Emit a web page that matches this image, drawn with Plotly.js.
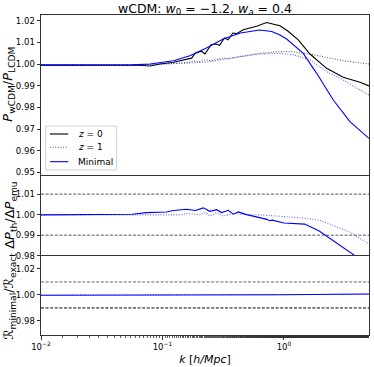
<!DOCTYPE html>
<html>
<head>
<meta charset="utf-8">
<script src="https://cdn.plot.ly/plotly-3.0.1.min.js"></script>
<style>html,body{margin:0;padding:0;background:#fff;}#chart{width:374px;height:367px;}</style>
</head>
<body>
<div id="chart"></div>
<script>
// ---- Panel 1: P_wCDM / P_LCDM ----
const kExactZ0 = [0.01,0.0316,0.0631,0.0794,0.0955,0.123,0.148,0.174,0.186,0.209,0.224,0.251,0.275,0.295,0.324,0.347,0.380,0.407,0.462,0.596,0.719,0.813,0.927,1.075,1.312,1.637,2.244,3.076,4.227,5.012];
const ratioExactZ0 = [0.9995,0.9995,0.9994,0.9991,1.0000,1.0008,1.0020,1.0027,1.0050,1.0059,1.0046,1.0089,1.0092,1.0086,1.0120,1.0112,1.0143,1.0140,1.0158,1.0174,1.0191,1.0183,1.0176,1.0152,1.0111,1.0046,0.9980,0.9939,0.9916,0.9899];

const kExactZ1 = [0.01,0.0631,0.110,0.168,0.178,0.200,0.229,0.251,0.316,0.347,0.407,0.634,0.927,1.122,1.637,3.076,5.012];
const ratioExactZ1 = [0.9997,0.9997,1.0001,1.0008,1.0015,1.0010,1.0020,1.0015,1.0028,1.0024,1.0032,1.0049,1.0057,1.0058,1.0046,1.0015,1.0000];

const kMinZ0 = [0.01,0.0316,0.0562,0.0794,0.123,0.168,0.230,0.316,0.437,0.631,0.794,0.927,1.052,1.442,1.858,2.547,3.491,5.012];
const ratioMinZ0 = [0.9995,0.9995,0.9996,1.0000,1.0015,1.0038,1.0074,1.0115,1.0143,1.0157,1.0150,1.0134,1.0115,1.0049,0.9957,0.9834,0.9734,0.9657];

const kMinZ1 = [0.01,0.0631,0.126,0.230,0.380,0.634,0.927,1.194,1.637,2.244,3.076,5.012];
const ratioMinZ1 = [0.9995,0.9996,1.0002,1.0009,1.0028,1.0046,1.0049,1.0042,1.0019,0.9965,0.9926,0.9856];

// ---- Panel 2: dP_th / dP_emu ----
const kDeltaZ0 = [0.01,0.0316,0.0562,0.0741,0.108,0.123,0.158,0.186,0.217,0.245,0.279,0.307,0.348,0.383,0.421,0.493,0.724,0.760,0.800,1.0,1.349,1.479,1.95,3.80,5.012];
const deltaZ0 = [0.9999,0.9999,1.0002,1.0010,1.0013,1.0020,1.0026,1.0020,1.0033,1.0016,1.0024,1.0010,1.0021,1.0002,1.0013,1.0000,0.9977,0.9970,0.9973,0.9959,0.9956,0.9954,0.9920,0.9800,0.9753];

const kDeltaZ1 = [0.01,0.138,0.158,0.204,0.229,0.245,0.279,0.316,0.383,0.493,0.631,1.0,1.349,1.995,2.541,3.467,5.012];
const deltaZ1 = [0.9999,0.9999,1.0005,1.0000,1.0010,0.9993,1.0010,0.9993,1.0005,1.0000,0.9999,0.9992,0.9985,0.9972,0.9948,0.9915,0.9857];

// ---- Panel 3: R_minimal / R_exact ----
const kR = [0.01,0.316,1.0,5.012];
const rZ0 = [0.9998,0.9999,1.0002,1.0007];
const rZ1 = [0.9998,0.9999,1.0001,1.0005];

// tolerance bands
const kEdges = [0.01,5.012];
const tolUpper = 1.01;
const tolLower = 0.99;

// tick labels
const xTickVals = [0.01,0.1,1];
const xTickText = ['10<sup>\u22122</sup>','10<sup>\u22121</sup>','10<sup>0</sup>'];
const y1Ticks = [0.95,0.96,0.97,0.98,0.99,1.00,1.01,1.02];
const y2Ticks = [0.98,0.99,1.00,1.01];
const y3Ticks = [0.98,1.00,1.02];

// legend labels
const legendLabels = ['<i>z</i> = 0','<i>z</i> = 1','Minimal'];

const BLUE = '#0000ff';
const BLUE_LIGHT = 'rgba(0,0,255,0.6)';
const GREY_DOT = 'rgba(0,0,0,0.65)';
const DOTS = '1px,1.6px';

const traces = [
  {x:kExactZ0, y:ratioExactZ0, xaxis:'x', yaxis:'y', mode:'lines', name:legendLabels[0],
   line:{color:'#000', width:1.1}},
  {x:kExactZ1, y:ratioExactZ1, xaxis:'x', yaxis:'y', mode:'lines', name:legendLabels[1],
   line:{color:GREY_DOT, width:1.1, dash:DOTS}},
  {x:kMinZ0, y:ratioMinZ0, xaxis:'x', yaxis:'y', mode:'lines', name:legendLabels[2],
   line:{color:BLUE, width:1.1}},
  {x:kMinZ1, y:ratioMinZ1, xaxis:'x', yaxis:'y', mode:'lines',
   line:{color:BLUE_LIGHT, width:1.1, dash:DOTS}},

  {x:kEdges, y:[tolUpper,tolUpper], xaxis:'x2', yaxis:'y2', mode:'lines',
   line:{color:'#555', width:1, dash:'3px,1.6px'}},
  {x:kEdges, y:[tolLower,tolLower], xaxis:'x2', yaxis:'y2', mode:'lines',
   line:{color:'#555', width:1, dash:'3px,1.6px'}},
  {x:kDeltaZ0, y:deltaZ0, xaxis:'x2', yaxis:'y2', mode:'lines',
   line:{color:BLUE, width:1.1}},
  {x:kDeltaZ1, y:deltaZ1, xaxis:'x2', yaxis:'y2', mode:'lines',
   line:{color:BLUE_LIGHT, width:1.1, dash:DOTS}},

  {x:kEdges, y:[tolUpper,tolUpper], xaxis:'x3', yaxis:'y3', mode:'lines',
   line:{color:'#666', width:1, dash:'3px,1.6px'}},
  {x:kEdges, y:[tolLower,tolLower], xaxis:'x3', yaxis:'y3', mode:'lines',
   line:{color:'#000', width:1, dash:'3px,1.6px'}},
  {x:kR, y:rZ0, xaxis:'x3', yaxis:'y3', mode:'lines',
   line:{color:BLUE, width:1.1}},
  {x:kR, y:rZ1, xaxis:'x3', yaxis:'y3', mode:'lines',
   line:{color:BLUE_LIGHT, width:1.1, dash:DOTS}}
];

const FONT = 'DejaVu Sans';
const AX = '#333';
function xax(anchor, bottom, line){
  return {
    type:'log', range:[-2, 0.7], anchor:anchor, matches: anchor==='y3'?undefined:'x3',
    showline:line, mirror:true, linecolor:AX, linewidth:1,
    showgrid:false, zeroline:false,
    ticks: bottom?'outside':'', ticklen:3.5, tickwidth:1, tickcolor:AX,
    showticklabels: bottom,
    tickvals: xTickVals, ticktext: xTickText,
    tickfont:{family:FONT, size:8.5, color:'#000'},
    minor: bottom ? {ticks:'outside', ticklen:2, tickwidth:0.8, tickcolor:AX, showgrid:false} : undefined
  };
}
function yax(domain, range, ticks, anchor){
  return {
    domain:domain, range:range, anchor:anchor,
    showline:true, mirror:true, linecolor:AX, linewidth:1,
    showgrid:false, zeroline:false,
    ticks:'outside', ticklen:3.5, tickwidth:1, tickcolor:AX,
    tickvals:ticks, tickformat:'.2f',
    tickfont:{family:FONT, size:8.5, color:'#000'}
  };
}

const xa3 = xax('y3', true, true);
xa3.title = {text:'<i>k</i> [<i>h/Mpc</i>]', font:{family:FONT, size:11, color:'#000'}, standoff:4};

// manual legend (positions in paper units of the plot area)
const legX0 = 0.0143, legX1 = 0.2308, legY0 = 0.5156, legY1 = 0.653;
const legRowY = [0.6281, 0.5866, 0.5416];
const legLineX = [0.0274, 0.0833];
const legTextX = 0.1067;
const legStyles = [
  {color:'#000', width:1.1},
  {color:GREY_DOT, width:1.1, dash:DOTS},
  {color:BLUE, width:1.1}
];

const shapes = [
  {type:'rect', xref:'paper', yref:'paper', x0:legX0, x1:legX1, y0:legY0, y1:legY1,
   line:{color:'#d0d0d0', width:1}, fillcolor:'rgba(255,255,255,0.85)', layer:'above'}
];
const annotations = [
  {text:'<i>P</i><sub>wCDM</sub>/<i>P</i><sub>LCDM</sub>', xref:'paper', yref:'paper',
   x:-0.098, y:0.785, textangle:-90, showarrow:false, xanchor:'center', yanchor:'middle',
   font:{family:FONT, size:13, color:'#000'}},
  {text:'\u0394<i>P</i><sub>th</sub>/\u0394<i>P</i><sub>emu</sub>', xref:'paper', yref:'paper',
   x:-0.095, y:0.375, textangle:-90, showarrow:false, xanchor:'center', yanchor:'middle',
   font:{family:FONT, size:13, color:'#000'}},
  {text:'\u211B<sub>minimal</sub>/\u211B<sub>exact</sub>', xref:'paper', yref:'paper',
   x:-0.095, y:0.122, textangle:-90, showarrow:false, xanchor:'center', yanchor:'middle',
   font:{family:FONT, size:13, color:'#000'}}
];
legendLabels.forEach((lab, i) => {
  shapes.push({type:'line', xref:'paper', yref:'paper', x0:legLineX[0], x1:legLineX[1],
               y0:legRowY[i], y1:legRowY[i], line:legStyles[i], layer:'above'});
  annotations.push({text:lab, xref:'paper', yref:'paper', x:legTextX, y:legRowY[i],
                    xanchor:'left', yanchor:'middle', showarrow:false,
                    font:{family:FONT, size:9, color:'#000'}});
});

const layout = {
  width:374, height:367,
  margin:{l:41, r:5, t:15, b:32},
  paper_bgcolor:'#fff', plot_bgcolor:'#fff',
  font:{family:FONT, color:'#000'},
  showlegend:false,
  title:{text:'wCDM: <i>w</i><sub>0</sub> = \u22121.2, <i>w<sub>a</sub></i> = 0.4',
         font:{family:FONT, size:12.5, color:'#000'},
         x:0.548, xanchor:'center', y:0.977, yanchor:'middle', xref:'container', yref:'container'},
  xaxis: xax('y', false, true),
  xaxis2: xax('y2', false, false),
  xaxis3: xa3,
  yaxis: yax([0.5, 1], [0.9488, 1.0226], y1Ticks, 'x'),
  yaxis2: yax([0.2478, 0.5], [0.98, 1.0193], y2Ticks, 'x2'),
  yaxis3: yax([0, 0.2478], [0.9692, 1.0302], y3Ticks, 'x3'),
  shapes: shapes,
  annotations: annotations
};

Plotly.newPlot('chart', traces, layout, {staticPlot:true, displayModeBar:false});
</script>
</body>
</html>
